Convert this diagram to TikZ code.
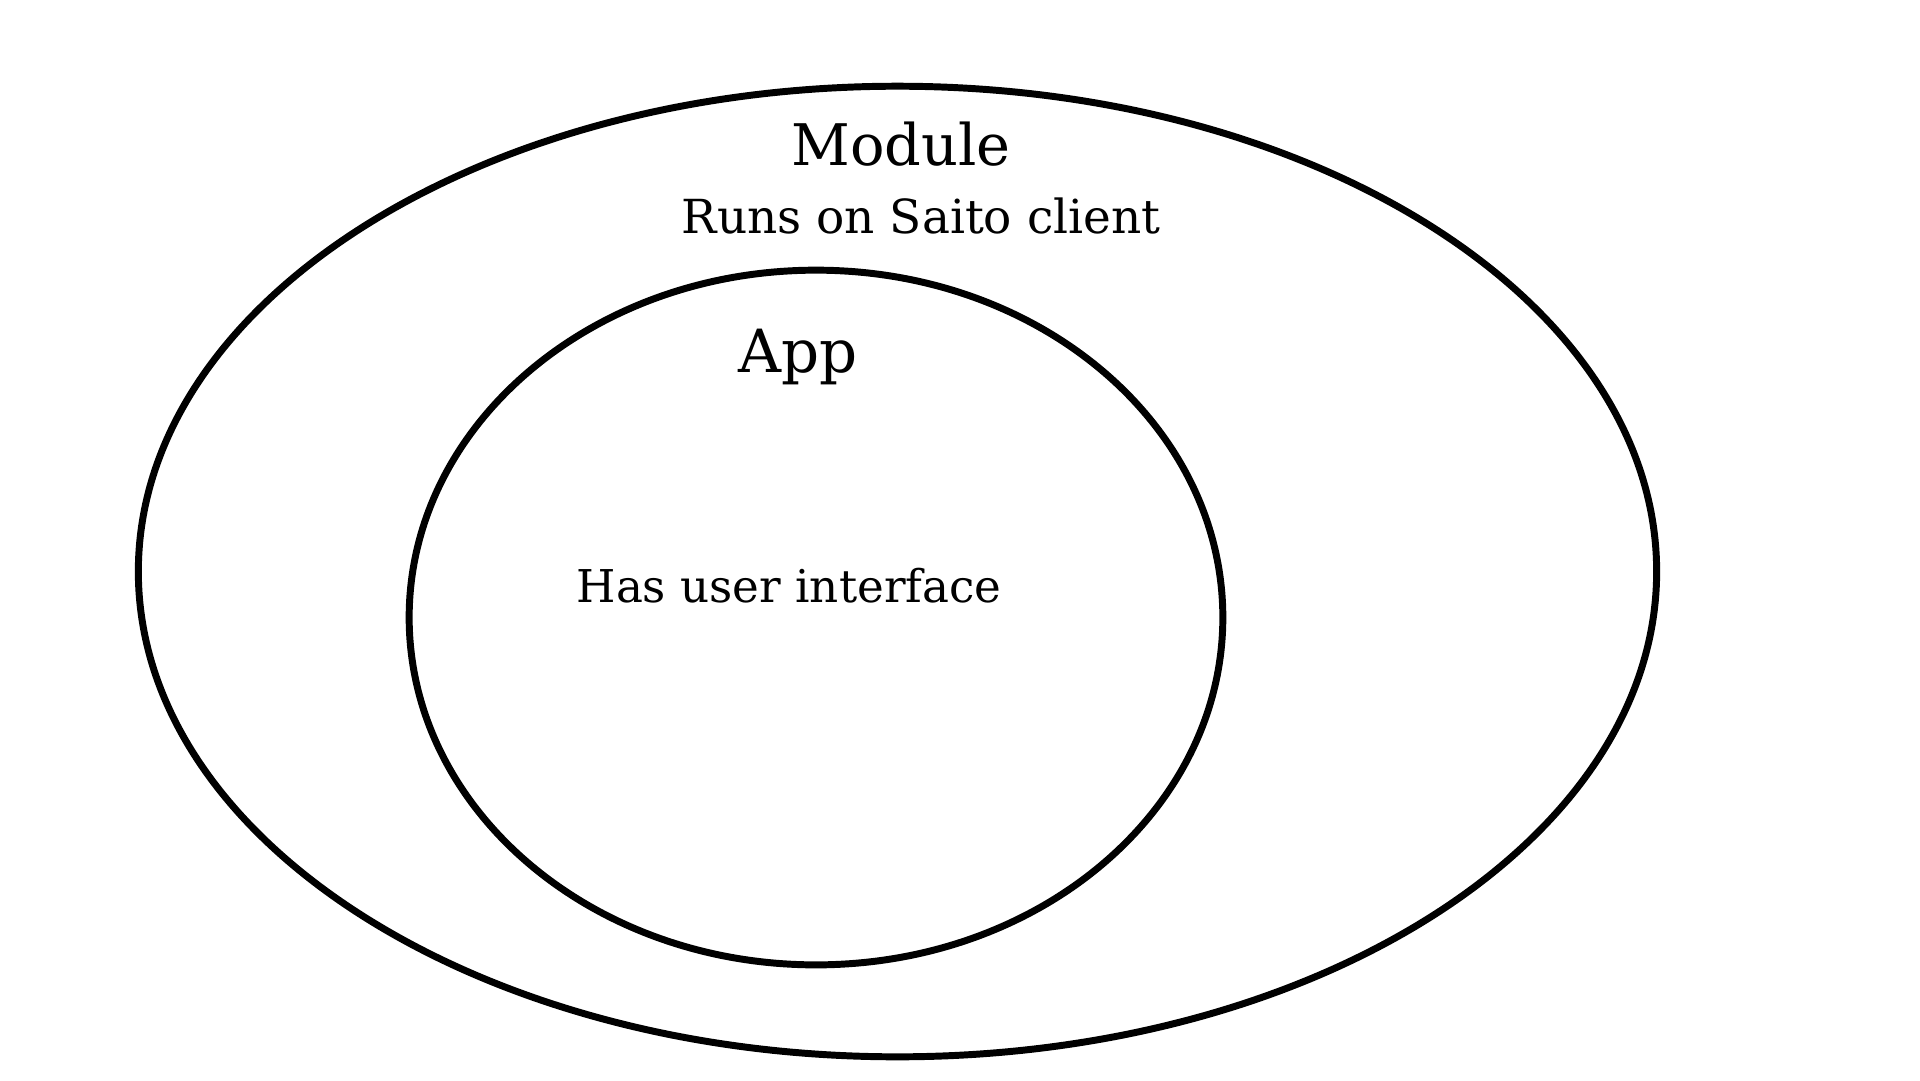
\documentclass[tikz,border=0pt]{standalone}
\usepackage{fontspec}
\setmainfont{DejaVu Serif}
\usetikzlibrary{shapes.geometric}
\begin{document}
\begin{tikzpicture}[x=0.0080833cm,y=-0.0080833cm,
  ring/.style={draw=black,line width=1.6pt,ellipse,inner sep=0pt,outer sep=0pt},
  lbl/.style={anchor=base,inner sep=0pt}]
\useasboundingbox (0,0) rectangle (1920,1080);
\fill[white] (0,0) rectangle (1920,1080);
\node[ring,minimum width=12.278cm,minimum height=7.849cm] (outer) at (897.5,571.5) {};
\node[ring,minimum width=6.580cm,minimum height=5.618cm] (inner) at (816,617.5) {};
\node[lbl,font=\fontsize{13.2pt}{16pt}\selectfont] (module) at (901,165) {Module};
\node[lbl,font=\fontsize{10.8pt}{13pt}\selectfont] (runs) at (921,233) {Runs on Saito client};
\node[lbl,font=\fontsize{13.7pt}{16pt}\selectfont] (app) at (798,372) {App};
\node[lbl,font=\fontsize{10.4pt}{13pt}\selectfont] (has) at (789,602) {Has user interface};
\end{tikzpicture}
\end{document}
